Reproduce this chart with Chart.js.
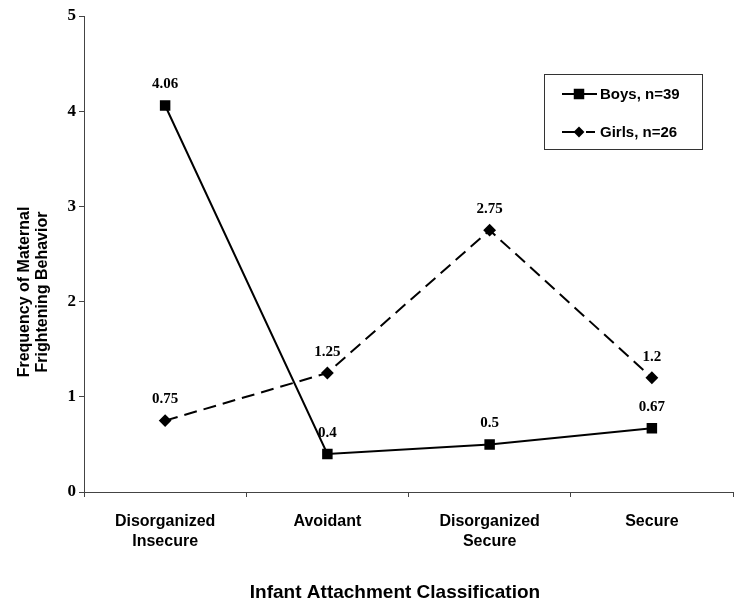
<!DOCTYPE html>
<html>
<head>
<meta charset="utf-8">
<script src="https://cdn.jsdelivr.net/npm/chart.js@4"></script>
<style>
  html, body { margin: 0; padding: 0; background: #fff; }
  #c { display: block; }
</style>
</head>
<body>
<canvas id="c" width="750" height="605"></canvas>
<script>
const categories = [["Disorganized", "Insecure"], "Avoidant", ["Disorganized", "Secure"], "Secure"];
const boysValues = [4.06, 0.4, 0.5, 0.67];
const girlsValues = [0.75, 1.25, 2.75, 1.2];
const seriesLabels = ["Boys, n=39", "Girls, n=26"];
const yTickValues = [0, 1, 2, 3, 4, 5];
const yTitleLines = ["Frequency of Maternal", "Frightening Behavior"];
const xTitle = "Infant Attachment Classification";

const SANS = '"Liberation Sans", Arial, sans-serif';
const SERIF = '"Liberation Serif", "Times New Roman", serif';

const dataLabelPlugin = {
  id: 'dataLabels',
  afterDatasetsDraw(chart) {
    const ctx = chart.ctx;
    ctx.save();
    ctx.font = 'bold 15px ' + SERIF;
    ctx.fillStyle = '#000';
    ctx.textAlign = 'center';
    ctx.textBaseline = 'middle';
    chart.data.datasets.forEach((ds, i) => {
      const meta = chart.getDatasetMeta(i);
      meta.data.forEach((pt, j) => {
        ctx.fillText(String(ds.data[j]), pt.x, pt.y - 21);
      });
    });
    ctx.restore();
  }
};

const titlesPlugin = {
  id: 'titles',
  afterDraw(chart) {
    const ctx = chart.ctx;
    ctx.save();
    ctx.fillStyle = '#000';
    ctx.textAlign = 'center';
    ctx.textBaseline = 'alphabetic';
    ctx.font = 'bold 19px ' + SANS;
    ctx.fillText(xTitle, 395, 598);
    ctx.textBaseline = 'middle';
    ctx.font = 'bold 16px ' + SANS;
    ctx.translate(0, 292);
    ctx.rotate(-Math.PI / 2);
    ctx.fillText(yTitleLines[0], 0, 25);
    ctx.fillText(yTitleLines[1], 0, 43);
    ctx.restore();
  }
};

const legendPlugin = {
  id: 'boxLegend',
  afterDraw(chart) {
    const ctx = chart.ctx;
    ctx.save();
    ctx.strokeStyle = '#333';
    ctx.lineWidth = 1;
    ctx.strokeRect(544.5, 74.5, 158, 75);
    const rows = [94, 132];
    chart.data.datasets.forEach((ds, i) => {
      const y = rows[i];
      ctx.strokeStyle = ds.borderColor;
      ctx.lineWidth = ds.borderWidth;
      ctx.beginPath();
      if (ds.borderDash) {
        ctx.moveTo(562, y); ctx.lineTo(578, y);
        ctx.moveTo(586, y); ctx.lineTo(595, y);
      } else {
        ctx.moveTo(562, y); ctx.lineTo(597, y);
      }
      ctx.stroke();
      Chart.helpers.drawPoint(ctx, {
        pointStyle: ds.pointStyle,
        radius: ds.borderDash ? 4 : ds.pointRadius,
        borderWidth: 1,
        rotation: 0
      }, 579, y);
      ctx.fillStyle = '#000';
      ctx.font = 'bold 15px ' + SANS;
      ctx.textAlign = 'left';
      ctx.textBaseline = 'middle';
      ctx.fillText(ds.label, 600, y + 1);
    });
    ctx.restore();
  }
};

new Chart(document.getElementById('c'), {
  type: 'line',
  data: {
    labels: categories,
    datasets: [
      {
        label: seriesLabels[0],
        data: boysValues,
        borderColor: '#000',
        backgroundColor: '#000',
        borderWidth: 2,
        pointStyle: 'rect',
        pointRadius: 6,
        pointBackgroundColor: '#000',
        pointBorderColor: '#000',
        tension: 0,
        fill: false
      },
      {
        label: seriesLabels[1],
        data: girlsValues,
        borderColor: '#000',
        backgroundColor: '#000',
        borderWidth: 2,
        borderDash: [13, 7],
        pointStyle: 'rectRot',
        pointRadius: 5,
        pointBackgroundColor: '#000',
        pointBorderColor: '#000',
        tension: 0,
        fill: false
      }
    ]
  },
  options: {
    responsive: false,
    animation: false,
    events: [],
    layout: { padding: { top: 16, right: 17, left: 0, bottom: 0 } },
    plugins: {
      legend: { display: false },
      tooltip: { enabled: false },
      title: { display: false }
    },
    scales: {
      x: {
        type: 'category',
        offset: true,
        grid: {
          display: true,
          drawOnChartArea: false,
          offset: true,
          tickLength: 5,
          color: '#444'
        },
        border: { display: true, color: '#444', width: 1 },
        ticks: {
          autoSkip: false,
          maxRotation: 0,
          minRotation: 0,
          padding: 15,
          color: '#000',
          font: { family: SANS, size: 16, weight: 'bold', lineHeight: 1.25 }
        },
        afterFit(scale) { scale.height = 113; }
      },
      y: {
        min: 0,
        max: 5,
        afterBuildTicks(scale) { scale.ticks = yTickValues.map(v => ({ value: v })); },
        grid: {
          display: true,
          drawOnChartArea: false,
          tickLength: 5,
          color: '#444'
        },
        border: { display: true, color: '#444', width: 1 },
        ticks: {
          padding: 3,
          color: '#000',
          font: { family: SERIF, size: 17, weight: 'bold' },
          callback: v => String(v)
        },
        afterFit(scale) { scale.width = 84; }
      }
    }
  },
  plugins: [dataLabelPlugin, titlesPlugin, legendPlugin]
});
</script>
</body>
</html>
